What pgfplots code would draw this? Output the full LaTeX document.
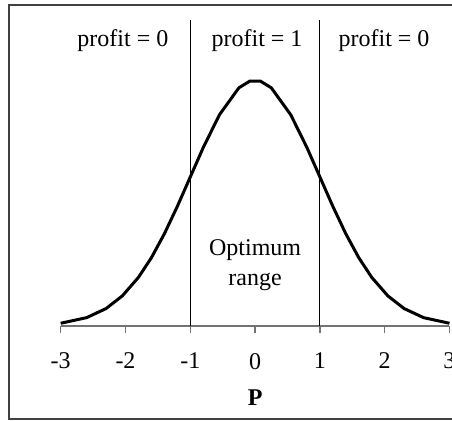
\documentclass[border=0pt]{standalone}
\usepackage{fontspec}
\setmainfont{Liberation Serif}
\usepackage{pgfplots}
\pgfplotsset{compat=1.18}
\begin{document}
\begin{tikzpicture}[font=\fontsize{12}{15}\selectfont]
\useasboundingbox (0,0) rectangle (226pt,210pt);
\clip (0,0) rectangle (226pt,210pt);
\draw[black!75, line width=0.75pt] (4.5pt,0.5pt) rectangle (240pt,207.5pt);
\begin{axis}[
  at={(30.35pt,47pt)}, anchor=south west,
  scale only axis,
  width=194.4pt, height=154pt,
  xmin=-3, xmax=3, ymin=0, ymax=0.5,
  axis x line=bottom, axis y line=none,
  x axis line style={-, black!55, line width=0.65pt},
  xtick={-3,-2,-1,0,1,2,3},
  xticklabels={-3,-2,-1,0,1,2,3},
  tick align=outside,
  major tick length=3.5pt,
  tick style={black!55, line width=0.65pt},
  xticklabel style={font=\fontsize{12}{14}\selectfont, anchor=north, yshift=-6.5pt},
  clip=false,
]
\addplot[black, line width=1.5pt, line join=round] coordinates {
  (-3,0.004432) (-2.6,0.013583) (-2.3,0.028327) (-2.05,0.048793)
  (-1.8,0.078950) (-1.6,0.110921) (-1.4,0.149727) (-1.2,0.194186)
  (-1.0,0.241971) (-0.8,0.289692) (-0.55,0.342944) (-0.25,0.386668)
  (-0.08,0.397668) (0.08,0.397668) (0.25,0.386668) (0.55,0.342944)
  (0.8,0.289692) (1.0,0.241971) (1.2,0.194186) (1.4,0.149727)
  (1.6,0.110921) (1.8,0.078950) (2.05,0.048793) (2.3,0.028327)
  (2.6,0.013583) (3,0.004432)
};
\addplot[black, line width=0.6pt] coordinates {(-1,0) (-1,0.496)};
\addplot[black, line width=0.6pt] coordinates {(1,0) (1,0.496)};
\node at (axis cs:-2.04,0.4627) {profit = 0};
\node at (axis cs:0.03,0.4627) {profit = 1};
\node at (axis cs:1.99,0.4627) {profit = 0};
\node[align=center] at (axis cs:0,0.099) {Optimum\\range};
\node at (axis cs:0,-0.117) {\textbf{P}};
\end{axis}
\end{tikzpicture}
\end{document}
